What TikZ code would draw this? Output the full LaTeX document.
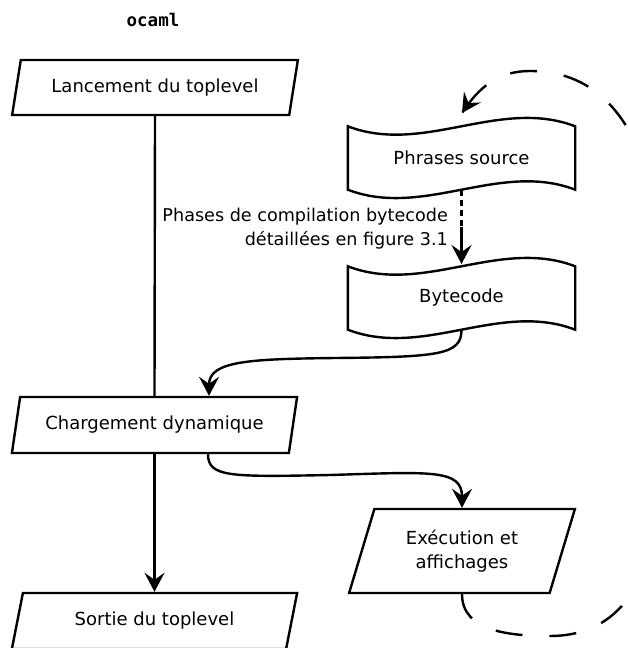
\documentclass[tikz,border=0pt]{standalone}
\usepackage{fontspec}
\setmainfont{DejaVu Sans}
\setmonofont{DejaVu Sans Mono}
\usetikzlibrary{shapes.geometric,arrows.meta,calc}

\begin{document}
\begin{tikzpicture}[x=1pt,y=1pt,
  every node/.style={font=\fontsize{18}{24}\selectfont},
  io/.style={trapezium, trapezium left angle=69, trapezium right angle=111,
    trapezium stretches=true, draw, line width=2.4pt, inner sep=0pt,
    minimum width=286, minimum height=55, align=center},
  doc/.style={rectangle, draw=none, minimum width=227, minimum height=63,
    inner sep=0pt},
  link/.style={line width=2.4pt},
  tip/.style={-{Stealth[length=19pt,width=20pt,inset=7pt]}},
  arr/.style={link, tip},
  loopback/.style={link, dash pattern=on 27pt off 27pt},
  wavy/.style={line width=2.4pt, line join=miter},
]
\useasboundingbox (0,0) rectangle (628,648);

% punched-tape outline around a rectangular node
\newcommand\tapeoutline[1]{%
  \draw[wavy] (#1.south west)
    .. controls +(75.7,-29) and +(-75.7,29) .. (#1.south east)
    -- (#1.north east)
    .. controls +(-75.7,29) and +(75.7,-29) .. (#1.north west)
    -- cycle;}

\node[font=\fontsize{17.5}{24}\ttfamily\bfseries] (title) at (153,628) {ocaml};

\node[io] (launch) at (155,560.5) {Lancement du toplevel};
\node[io, minimum height=56] (charg) at (154.5,223) {Chargement dynamique};
\node[io, minimum height=56] (sortie) at (154.5,27) {Sortie du toplevel};
\node[io, minimum width=226, minimum height=84] (exec) at (462,97)
  {Exécution et\\affichages};

\node[doc] (src) at (461.5,490) {Phrases source};
\node[doc] (bc) at (461.5,350) {Bytecode};
\tapeoutline{src}
\tapeoutline{bc}

\node[anchor=east, align=right, inner sep=0pt,
  font=\fontsize{17.6}{24}\selectfont] (phases) at (448,419)
  {Phases de compilation bytecode\\détaillées en figure 3.1};

% main vertical flow
\draw[link] (launch.center |- launch.south) -- (charg.center |- charg.north);
\draw[arr] (charg.center |- charg.south) -- (sortie.center |- sortie.north);

% compilation step
\coordinate (cmid) at (461.5,421);
\coordinate (bcin) at (461.5,384);
\draw[link, dash pattern=on 6pt off 4pt] (src.south) -- (cmid);
\draw[arr] (cmid) -- (bcin);

% bytecode to dynamic loading
\coordinate (m1) at (336,290);
\draw[arr] (bc.south) .. controls +(0,-25) and +(104,1) .. (m1)
  .. controls +(-86,-1) and +(0,35) .. ($(charg.north)+(54.5,0)$);

% dynamic loading to execution
\coordinate (m2) at (330,173);
\draw[arr] ($(charg.south)+(53.5,0)$) .. controls +(0,-23) and +(-100,-2) .. (m2)
  .. controls +(100,3) and +(0,39) .. (exec.center |- exec.north);

% loop back to the next phrase, drawn as two halves meeting off to the right
\coordinate (srcin) at (462,535);
\coordinate (far) at (668,300);
\draw[loopback] (exec.center |- exec.south) to[out=-90,in=180] (550,12)
  to[out=0,in=-90] (far);
\draw[loopback, dash phase=44pt] (srcin) to[out=57,in=180] (530,577)
  to[out=0,in=90] (far);
\draw[arr] ($(srcin)+(57:1pt)$) -- (srcin);
\end{tikzpicture}
\end{document}
